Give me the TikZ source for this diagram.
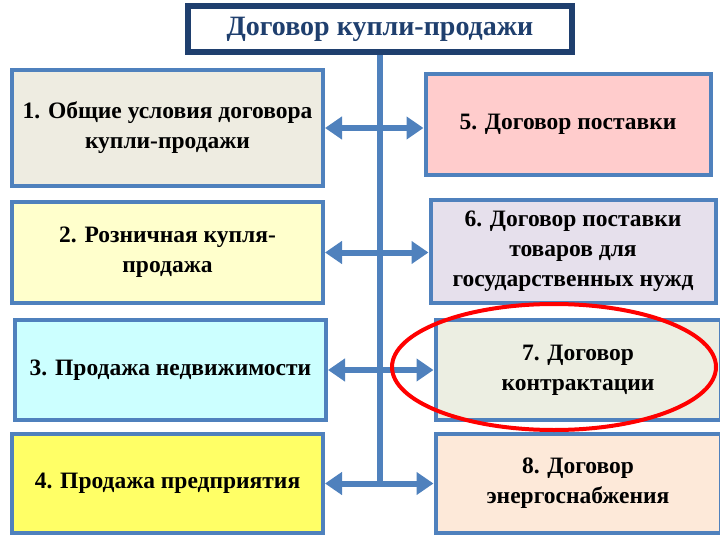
\documentclass[tikz,border=0pt]{standalone}
\usepackage{fontspec}
\setmainfont{Liberation Serif}
\usetikzlibrary{arrows.meta,positioning}
\definecolor{frameblue}{HTML}{4F81BD}
\definecolor{titlenavy}{HTML}{1F3F6E}
\definecolor{fillA}{HTML}{EEECE1}
\definecolor{fillB}{HTML}{FFFFCC}
\definecolor{fillC}{HTML}{CCFFFF}
\definecolor{fillD}{HTML}{FFFF66}
\definecolor{fillE}{HTML}{FFCCCC}
\definecolor{fillF}{HTML}{E6E0EC}
\definecolor{fillG}{HTML}{ECEEE2}
\definecolor{fillH}{HTML}{FDE9D9}
\begin{document}
\begin{tikzpicture}[
  x=1pt, y=-1pt,
  font=\bfseries\fontsize{23.5}{30}\selectfont,
  ttl/.style={draw=titlenavy, line width=6pt, fill=white, text=titlenavy,
              font=\bfseries\fontsize{28}{32}\selectfont,
              minimum width=384pt, minimum height=46pt, inner sep=1pt},
  box/.style={draw=frameblue, line width=4pt, align=center, inner sep=2pt},
  lbox/.style={box, minimum width=311pt},
  rbox/.style={box, minimum width=285pt},
  arr/.style={{Triangle[length=17pt,width=22pt]}-{Triangle[length=17pt,width=22pt]},
              draw=frameblue, fill=frameblue, line width=6pt},
  trunk/.style={draw=frameblue, line width=6pt}
]
\useasboundingbox (0,0) rectangle (720,540);
% ---------------- title ----------------
\node[ttl] (title) at (380,29) {Договор купли-продажи};
% ---------------- left column ----------------
\node[lbox, fill=fillA, minimum height=116pt] (b1) at (167.5,128)
  {1. Общие условия договора\\ купли-продажи};
\node[lbox, fill=fillB, minimum height=101pt] (b2) at (167.5,252.5)
  {2. Розничная купля-\\ продажа};
\node[lbox, fill=fillC, minimum height=100pt] (b3) at (170.5,370)
  {3. Продажа недвижимости};
\node[lbox, fill=fillD, minimum height=99pt] (b4) at (167.5,483.5)
  {4. Продажа предприятия};
% ---------------- right column ----------------
\node[rbox, fill=fillE, minimum height=101pt] (b5) at (568,124.5)
  {5. Договор поставки};
\node[rbox, fill=fillF, minimum height=103pt] (b6) at (573,251.5)
  {6. Договор поставки\\ товаров для\\ государственных нужд};
\node[rbox, fill=fillG, minimum height=100pt] (b7) at (578,370)
  {7. Договор\\ контрактации};
\node[rbox, fill=fillH, minimum height=99pt] (b8) at (578,483.5)
  {8. Договор\\ энергоснабжения};
% ---------------- connectors ----------------
\coordinate (tend) at (title.south |- b4.east);
\draw[trunk] (title.south) -- (tend);
\draw[arr] (b1.east) -- (b1.east -| b5.west);
\draw[arr] (b2.east) -- (b2.east -| b6.west);
\draw[arr] (b3.east) -- (b3.east -| b7.west);
\draw[arr] (b4.east) -- (b4.east -| b8.west);
% ---------------- highlight ----------------
\draw[red, line width=4pt] (b7.center) ++(-24,-3) ellipse [x radius=162, y radius=63];
\end{tikzpicture}
\end{document}
